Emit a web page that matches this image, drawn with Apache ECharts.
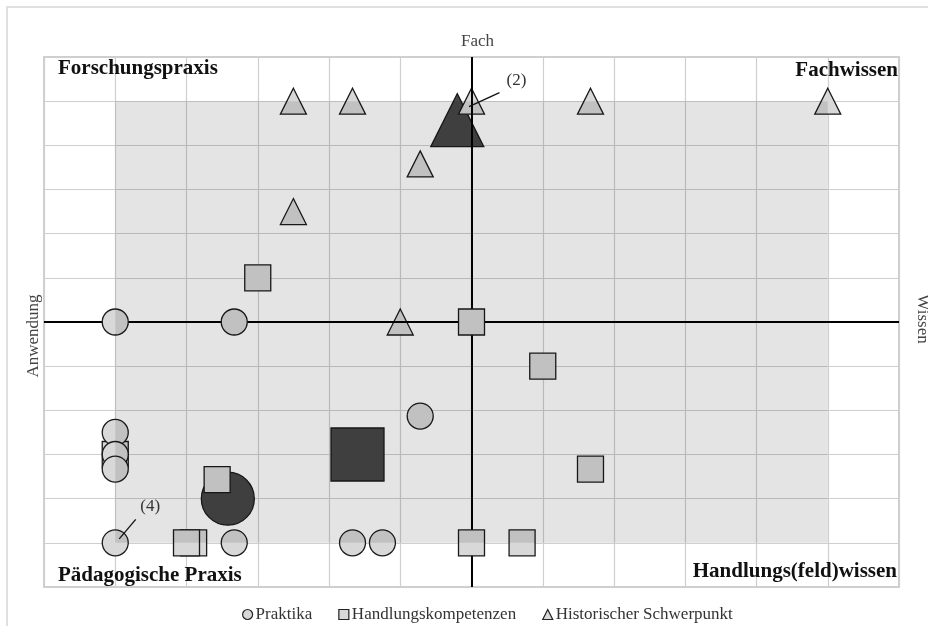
<!DOCTYPE html>
<html>
<head>
<meta charset="utf-8">
<script src="https://cdn.jsdelivr.net/npm/echarts@6/dist/echarts.min.js"></script>
<style>
html,body{margin:0;padding:0;background:#fff;}
#chart{width:928px;height:626px;}
</style>
</head>
<body>
<div id="chart"></div>
<script>
// ---- data ----
var seriesNames = ['Praktika', 'Handlungskompetenzen', 'Historischer Schwerpunkt'];
var praktika = [[-5,0],[-3.33,0],[-0.72,-2.13],[-5,-2.5],[-5,-3],[-5,-3.33],[-5,-5],[-3.33,-5],[-1.67,-5],[-1.25,-5]];
var handlungskompetenzen = [[-3,1],[0,0],[1,-1],[1.67,-3.33],[-5,-3],[-3.9,-5],[-4,-5],[-3.57,-3.57],[0,-5],[0.71,-5]];
var historisch = [[-2.5,5],[-1.67,5],[0,5],[1.67,5],[5,5],[-0.72,3.58],[-2.5,2.5],[-1,0]];
var meanPraktika = [[-3.42,-4]];
var meanHandlung = [[-1.6,-3]];
var meanHistorisch = [[-0.2,4.57]];
var axisRange = [-6, 6];
var shadeRange = [-5, 5];
var quadrantLabels = ['Forschungspraxis', 'Fachwissen', 'Pädagogische Praxis', 'Handlungs(feld)wissen'];
var axisNames = ['Fach', 'Anwendung', 'Wissen'];
var annotations = [{text: '(2)', point: [0,5]}, {text: '(4)', point: [-5,-5]}];

var FONT = '"Liberation Serif", "DejaVu Serif", serif';
var light = '#d8d8d8', dark = '#474747', edge = '#1a1a1a';

var chart = echarts.init(document.getElementById('chart'), null, {renderer: 'canvas'});

function scatter(name, data, symbol, size, color, z) {
  return {
    type: 'scatter', name: name, data: data, symbol: symbol, symbolSize: size, z: z,
    itemStyle: {color: color, borderColor: edge, borderWidth: 1.3, opacity: 1},
    emphasis: {disabled: true}, silent: true
  };
}

var option = {
  backgroundColor: '#fff',
  animation: false,
  grid: {left: 44, right: 29, top: 57, bottom: 39, show: true, borderColor: '#cfcfcf', borderWidth: 2, backgroundColor: 'transparent'},
  xAxis: {type: 'value', min: axisRange[0], max: axisRange[1], interval: 1,
    axisLine: {show: false}, axisTick: {show: false}, axisLabel: {show: false},
    splitLine: {show: true, lineStyle: {color: '#cfcfcf', width: 1.2}}},
  yAxis: {type: 'value', min: axisRange[0], max: axisRange[1], interval: 1,
    axisLine: {show: false}, axisTick: {show: false}, axisLabel: {show: false},
    splitLine: {show: true, lineStyle: {color: '#cfcfcf', width: 1.2}}},
  legend: {
    data: [
      {name: seriesNames[0], icon: 'circle'},
      {name: seriesNames[1], icon: 'rect'},
      {name: seriesNames[2], icon: 'triangle'}
    ],
    left: 237, top: 601, itemWidth: 10, itemHeight: 10, itemGap: 26,
    selectedMode: false,
    itemStyle: {color: '#d8d8d8', borderColor: '#222', borderWidth: 1.2},
    textStyle: {fontFamily: FONT, fontSize: 17, color: '#333', padding: [0,0,0,-2]}
  },
  series: [
    scatter('mean1', meanPraktika, 'circle', 53, dark, 1),
    scatter('mean2', meanHandlung, 'rect', 53, dark, 1),
    scatter('mean3', meanHistorisch, 'triangle', 53, dark, 1),
    scatter(seriesNames[2], historisch, 'triangle', 26, light, 2),
    {
      type: 'scatter', name: 'axes', data: [], z: 2.5, silent: true,
      markLine: {silent: true, symbol: 'none', animation: false, z: 2.5,
        label: {show: false},
        lineStyle: {color: '#000', width: 2, type: 'solid'},
        emphasis: {disabled: true},
        data: [{xAxis: 0}, {yAxis: 0}]}
    },
    scatter(seriesNames[1], handlungskompetenzen, 'rect', 26, light, 3),
    scatter(seriesNames[0], praktika, 'circle', 26, light, 4),
    {
      type: 'scatter', name: 'shade', data: [], z: 5, silent: true,
      markArea: {silent: true, z: 6,
        itemStyle: {color: 'rgba(0,0,0,0.105)'},
        emphasis: {disabled: true},
        data: [[{coord: [shadeRange[0], shadeRange[0]]}, {coord: [shadeRange[1], shadeRange[1]]}]]}
    }
  ]
};
chart.setOption(option);

// ---- text elements positioned from the grid ----
var tl = chart.convertToPixel({gridIndex: 0}, [axisRange[0], axisRange[1]]);
var br = chart.convertToPixel({gridIndex: 0}, [axisRange[1], axisRange[0]]);
var c0 = chart.convertToPixel({gridIndex: 0}, [0, 0]);
var boldStyle = {fontFamily: FONT, fontSize: 21, fontWeight: 'bold', fill: '#111'};
var nameStyle = {fontFamily: FONT, fontSize: 17, fill: '#444'};
var graphics = [
  {type: 'rect', shape: {x: 7, y: 7, width: 1200, height: 1200}, style: {fill: 'none', stroke: '#e0e0e0', lineWidth: 2}, z: 0, silent: true},
  {type: 'text', x: tl[0] + 14, y: tl[1] + 12, style: Object.assign({text: quadrantLabels[0], align: 'left', verticalAlign: 'middle'}, boldStyle), z: 20},
  {type: 'text', x: br[0] - 1, y: tl[1] + 14, style: Object.assign({text: quadrantLabels[1], align: 'right', verticalAlign: 'middle'}, boldStyle), z: 20},
  {type: 'text', x: tl[0] + 14, y: br[1] - 11, style: Object.assign({text: quadrantLabels[2], align: 'left', verticalAlign: 'middle'}, boldStyle), z: 20},
  {type: 'text', x: br[0] - 2, y: br[1] - 15, style: Object.assign({text: quadrantLabels[3], align: 'right', verticalAlign: 'middle'}, boldStyle), z: 20},
  {type: 'text', x: c0[0] + 6, y: tl[1] - 15, style: Object.assign({text: axisNames[0], align: 'center', verticalAlign: 'middle'}, nameStyle), z: 20},
  {type: 'text', x: 34, y: c0[1] + 14, rotation: Math.PI / 2, style: Object.assign({text: axisNames[1], align: 'center', verticalAlign: 'middle'}, nameStyle), z: 20},
  {type: 'text', x: 922, y: c0[1] - 3, rotation: -Math.PI / 2, style: Object.assign({text: axisNames[2], align: 'center', verticalAlign: 'middle'}, nameStyle), z: 20}
];
var offs = [
  {l1: [-2.5, 5.5], l2: [28, -8.5], t: [45, -21]},
  {l1: [4, -4], l2: [20.5, -23.5], t: [35, -36]}
];
annotations.forEach(function (a, i) {
  var p = chart.convertToPixel({gridIndex: 0}, a.point);
  var o = offs[i];
  graphics.push({type: 'line', shape: {x1: p[0] + o.l1[0], y1: p[1] + o.l1[1], x2: p[0] + o.l2[0], y2: p[1] + o.l2[1]}, style: {stroke: '#111', lineWidth: 1.3}, z: 20, silent: true});
  graphics.push({type: 'text', x: p[0] + o.t[0], y: p[1] + o.t[1], style: Object.assign({text: a.text, align: 'center', verticalAlign: 'middle'}, nameStyle, {fill: '#333'}), z: 20});
});
chart.setOption({graphic: graphics});
</script>
</body>
</html>
